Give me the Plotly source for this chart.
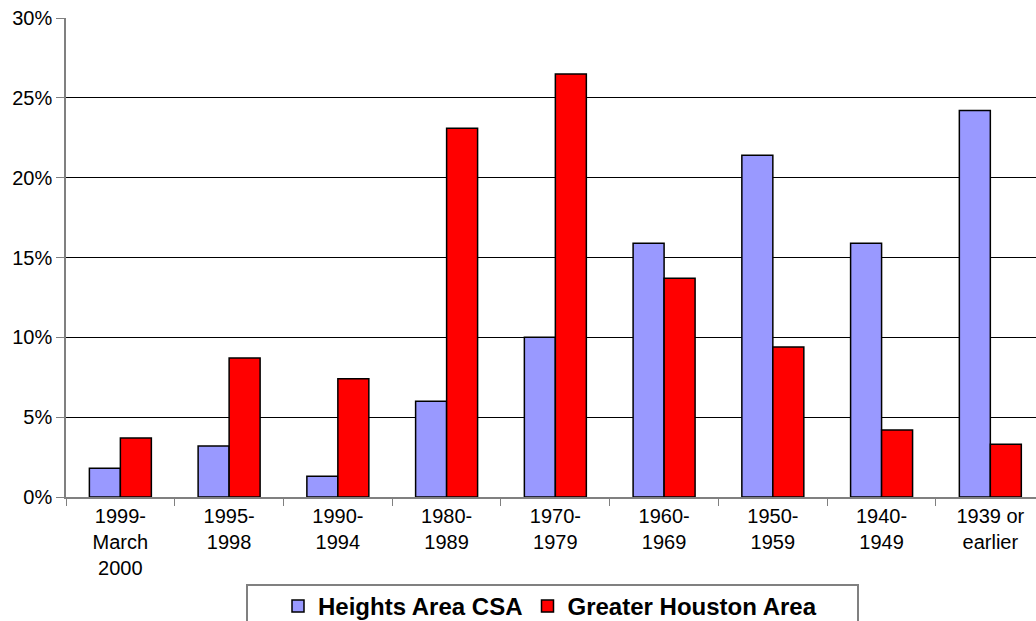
import plotly.graph_objects as go

categories = ["1999-<br>March<br>2000", "1995-<br>1998", "1990-<br>1994", "1980-<br>1989",
              "1970-<br>1979", "1960-<br>1969", "1950-<br>1959", "1940-<br>1949", "1939 or<br>earlier"]
heights_csa = [1.8, 3.2, 1.3, 6.0, 10.0, 15.9, 21.4, 15.9, 24.2]
greater_houston = [3.7, 8.7, 7.4, 23.1, 26.5, 13.7, 9.4, 4.2, 3.3]
y_ticks = [0, 5, 10, 15, 20, 25, 30]
y_ticktext = [f"{v}%" for v in y_ticks]

FONT = "Arial, 'Liberation Sans', sans-serif"

fig = go.Figure()
fig.add_trace(go.Bar(x=categories, y=heights_csa, name="Heights Area CSA",
                     marker=dict(color="#9999FF", line=dict(color="#000000", width=1.5))))
fig.add_trace(go.Bar(x=categories, y=greater_houston, name="Greater Houston Area",
                     marker=dict(color="#FF0000", line=dict(color="#000000", width=1.5))))

W, H = 1036, 621
L, R, T, B = 66, 0, 18, 124
pw = W - L - R
ph = H - T - B

def px_x(p):
    return (p - L) / pw

def px_y(p):
    return (H - B - p) / ph

fig.update_layout(
    width=W, height=H,
    margin=dict(l=L, r=R, t=T, b=B, pad=0, autoexpand=False),
    paper_bgcolor="white", plot_bgcolor="white",
    barmode="group", bargap=0.43, bargroupgap=0,
    font=dict(family=FONT, size=20, color="#000000"),
    xaxis=dict(
        type="category", range=[-0.5, 8.42], automargin=False,
        showgrid=False, showline=True, linecolor="#808080", linewidth=1.5,
        ticks="outside", tickson="boundaries", ticklen=7, tickcolor="#808080", tickwidth=1,
        tickfont=dict(family=FONT, size=20, color="#000000"),
        fixedrange=True,
    ),
    yaxis=dict(
        range=[0, 30], tickvals=y_ticks, ticktext=y_ticktext, automargin=False,
        showgrid=True, gridcolor="#000000", gridwidth=1,
        showline=True, linecolor="#808080", linewidth=1.5,
        ticks="outside", ticklen=8, tickcolor="#808080", tickwidth=1,
        tickfont=dict(family=FONT, size=20, color="#000000"),
        zeroline=False, fixedrange=True,
    ),
    legend=dict(
        orientation="h", x=px_x(278), xanchor="left", y=px_y(584), yanchor="top",
        font=dict(family=FONT, size=24, color="#000000", weight="bold"),
        bgcolor="rgba(0,0,0,0)", borderwidth=0, traceorder="normal",
    ),
    shapes=[dict(type="rect", xref="paper", yref="paper",
                 x0=px_x(247), x1=px_x(858), y0=px_y(585), y1=px_y(640),
                 line=dict(color="#808080", width=2), fillcolor="rgba(0,0,0,0)", layer="above")],
    showlegend=True,
)

fig.write_html("out.html",
               config={"displayModeBar": False},
               post_script="document.body.style.margin='0';document.body.style.overflow='hidden';")
